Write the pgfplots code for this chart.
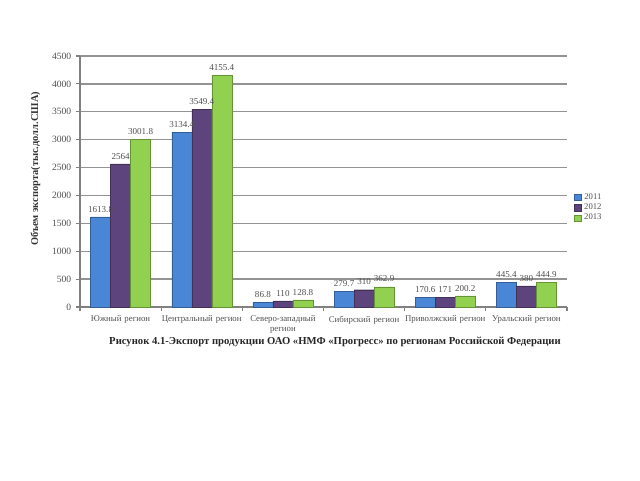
\documentclass[border=0pt]{standalone}
\usepackage{pgfplots}
\pgfplotsset{compat=1.18}
\usepackage{fontspec}
\setmainfont{Liberation Serif}
\definecolor{cb}{RGB}{74,134,214}
\definecolor{cp}{RGB}{94,68,124}
\definecolor{cg}{RGB}{146,208,80}
\definecolor{txt}{RGB}{80,80,80}
\begin{document}
\begin{tikzpicture}
\useasboundingbox (0pt,0pt) rectangle (480pt,360pt);
\begin{axis}[
  at={(60pt,129.75pt)}, anchor=south west,
  scale only axis, width=365.25pt, height=188.25pt,
  ybar=0pt, bar width=15pt,
  ymin=0, ymax=4500, ytick={0,500,...,4500},
  /pgf/number format/1000 sep={},
  /pgf/number format/assume math mode=true,
  xmin=-0.5, xmax=5.5,
  xtick={0,1,2,3,4,5},
  xticklabels={Южный регион, Центральный регион, {Северо-западный\\регион}, Сибирский регион, Приволжский регион, Уральский регион},
  xticklabel style={align=center, text width=62pt, font=\fontsize{6.6}{7.6}\selectfont, text=txt},
  yticklabel style={font=\fontsize{7.2}{9}\selectfont, text=txt},
  major x tick style={draw=none},
  minor xtick={-0.5,0.5,...,5.5},
  minor x tick style={gray, line width=0.8pt},
  minor tick length=3pt,
  major tick length=3pt,
  tick align=outside,
  axis x line*=bottom, axis y line*=left,
  axis line style={gray, line width=0.8pt},
  y tick style={gray, line width=0.8pt},
  ymajorgrids, grid style={gray!85, line width=1pt},
  ylabel={Объем экспорта(тыс.долл.США)},
  ylabel style={font=\bfseries\fontsize{7.8}{9}\selectfont, at={(axis description cs:-0.072,0.55)}, text=black!80},
  nodes near coords,
  nodes near coords style={font=\fontsize{6.8}{8}\selectfont, text=txt},
  point meta=explicit symbolic,
  legend style={at={(axis description cs:1.012,0.47)}, anchor=north west, draw=none, font=\fontsize{6.5}{7.5}\selectfont, text=txt, row sep=-2pt, inner sep=1pt},
  legend image code/.code={\fill[#1] (0pt,-2.5pt) rectangle (5pt,2.5pt);},
]
\addplot[fill=cb, draw=cb!70!black, line width=0.3pt] coordinates {(0,1613.8)[1613.8] (1,3134.4)[3134.4] (2,86.8)[86.8] (3,279.7)[279.7] (4,170.6)[170.6] (5,445.4)[445.4]};
\addplot[fill=cp, draw=cp!70!black, line width=0.3pt] coordinates {(0,2564)[2564] (1,3549.4)[3549.4] (2,110)[110] (3,310)[310] (4,171)[171] (5,380)[380]};
\addplot[fill=cg, draw=cg!70!black, line width=0.3pt] coordinates {(0,3001.8)[3001.8] (1,4155.4)[4155.4] (2,128.8)[128.8] (3,362.9)[362.9] (4,200.2)[200.2] (5,444.9)[444.9]};
\legend{2011,2012,2013}
\end{axis}
\node[font=\bfseries\fontsize{8}{10}\selectfont, text=black!85] at (251.25pt,103.5pt) {Рисунок 4.1-Экспорт продукции ОАО «НМФ «Прогресс» по регионам Российской Федерации};
\end{tikzpicture}
\end{document}
